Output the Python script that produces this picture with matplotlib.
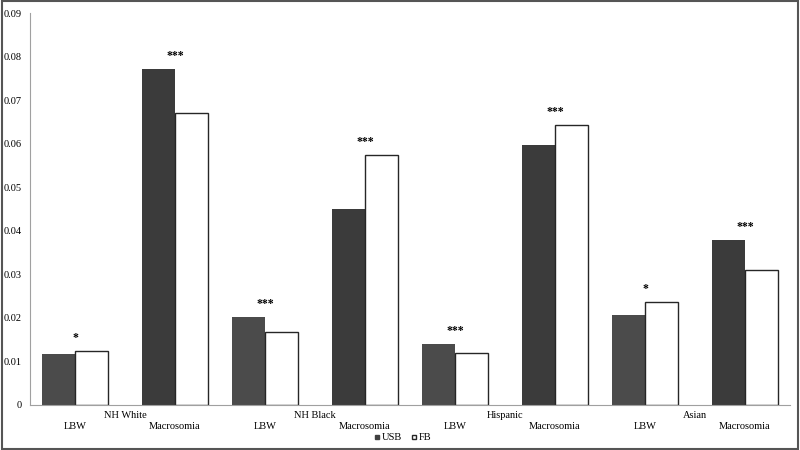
import matplotlib
matplotlib.use("Agg")
import matplotlib.pyplot as plt
from matplotlib.lines import Line2D
from matplotlib.patches import Rectangle
import numpy as np

plt.rcParams['font.family'] = ['Liberation Serif', 'DejaVu Serif']

races = ['NH White', 'NH Black', 'Hispanic', 'Asian']
outcomes = ['LBW', 'Macrosomia']
usb_lbw = [0.0116, 0.0203, 0.0141, 0.0207]
fb_lbw = [0.0123, 0.0168, 0.0119, 0.0237]
usb_macro = [0.0772, 0.0451, 0.0597, 0.0378]
fb_macro = [0.0670, 0.0575, 0.0643, 0.0310]
sig_lbw = ['*', '***', '***', '*']
sig_macro = ['***', '***', '***', '***']

fig = plt.figure(figsize=(8, 4.5), dpi=100)
ax = fig.add_axes([0.0375, 0.1, 0.95, 0.871])

w = 0.33
race_pos = np.arange(len(races)) * 1.9 + 0.75
lbw_pos = race_pos
mac_pos = race_pos + 1.0

ax.bar(lbw_pos - w / 2, usb_lbw, w, color='#4b4b4b', linewidth=0)
ax.bar(lbw_pos + w / 2, fb_lbw, w, color='white', edgecolor='#262626', linewidth=1)
ax.bar(mac_pos - w / 2, usb_macro, w, color='#3b3b3b', linewidth=0)
ax.bar(mac_pos + w / 2, fb_macro, w, color='white', edgecolor='#262626', linewidth=1)

for i in range(len(races)):
    ax.annotate(sig_lbw[i], (lbw_pos[i], max(usb_lbw[i], fb_lbw[i])),
                xytext=(0, 5), textcoords='offset points', ha='center', va='bottom',
                fontsize=8.5, fontweight='bold')
    ax.annotate(sig_macro[i], (mac_pos[i], max(usb_macro[i], fb_macro[i])),
                xytext=(0, 5), textcoords='offset points', ha='center', va='bottom',
                fontsize=8.5, fontweight='bold')

tr = ax.get_xaxis_transform()
for i, r in enumerate(races):
    ax.text(lbw_pos[i], -0.056, outcomes[0], transform=tr, ha='center', va='center', fontsize=7.5)
    ax.text(mac_pos[i], -0.054, outcomes[1], transform=tr, ha='center', va='center', fontsize=7.5)
    ax.text((lbw_pos[i] + mac_pos[i]) / 2, -0.028, r, transform=tr, ha='center', va='center', fontsize=7.5)

ax.set_xlim(0.3, 7.9)
ax.set_ylim(0, 0.09)
ax.set_yticks(np.arange(0, 0.091, 0.01))
ax.set_yticklabels(['0'] + ['%.2f' % v for v in np.arange(0.01, 0.091, 0.01)])
ax.set_xticks([])
ax.tick_params(axis='y', length=0, labelsize=7.5, pad=6)
for s in ['top', 'right']:
    ax.spines[s].set_visible(False)
ax.spines['left'].set_color('#a0a0a0')
ax.spines['bottom'].set_color('#a0a0a0')

handles = [Line2D([], [], marker='s', linestyle='none', markersize=3.5, markerfacecolor='#404040',
                  markeredgecolor='#404040', label='USB'),
           Line2D([], [], marker='s', linestyle='none', markersize=3.5, markerfacecolor='white',
                  markeredgecolor='#262626', label='FB')]
ax.legend(handles=handles, loc='center', bbox_to_anchor=(0.49, -0.083), ncol=2, frameon=False,
          fontsize=7.5, handlelength=0.6, handletextpad=0.2, columnspacing=0.8)

fig.patches.append(Rectangle((0.002, 0.003), 0.996, 0.994, transform=fig.transFigure,
                             fill=False, edgecolor='#555555', linewidth=1.5))

fig.savefig('out.png', dpi=100)
